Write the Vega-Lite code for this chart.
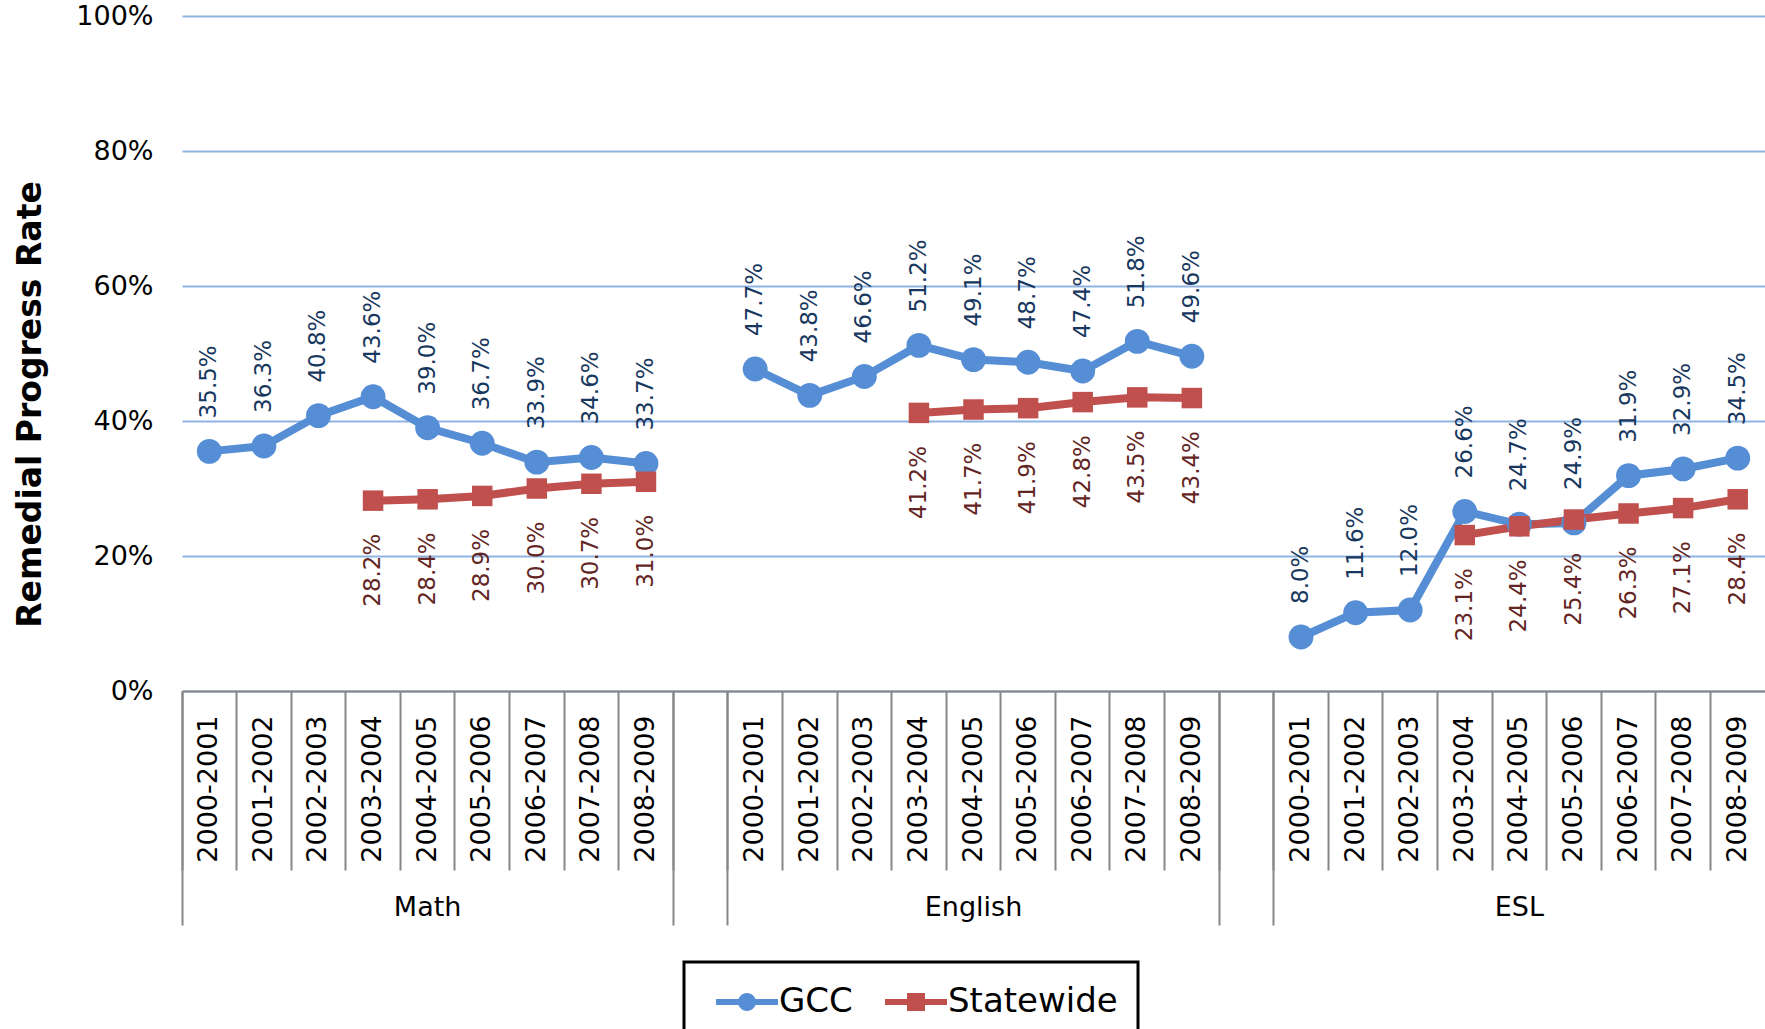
{
  "$schema": "https://vega.github.io/schema/vega-lite/v6.json",
  "width": 1583,
  "height": 675,
  "autosize": {"type": "none"},
  "padding": {"left": 182, "top": 16, "right": 0, "bottom": 338},
  "background": "white",
  "config": {"font": "DejaVu Sans", "view": {"stroke": null}},
  "data": {"values": [
    {"cat": "Math 2000-2001", "group": "Math", "series": "GCC", "value": 0.355},
    {"cat": "Math 2001-2002", "group": "Math", "series": "GCC", "value": 0.363},
    {"cat": "Math 2002-2003", "group": "Math", "series": "GCC", "value": 0.408},
    {"cat": "Math 2003-2004", "group": "Math", "series": "GCC", "value": 0.436},
    {"cat": "Math 2004-2005", "group": "Math", "series": "GCC", "value": 0.390},
    {"cat": "Math 2005-2006", "group": "Math", "series": "GCC", "value": 0.367},
    {"cat": "Math 2006-2007", "group": "Math", "series": "GCC", "value": 0.339},
    {"cat": "Math 2007-2008", "group": "Math", "series": "GCC", "value": 0.346},
    {"cat": "Math 2008-2009", "group": "Math", "series": "GCC", "value": 0.337},
    {"cat": "English 2000-2001", "group": "English", "series": "GCC", "value": 0.477},
    {"cat": "English 2001-2002", "group": "English", "series": "GCC", "value": 0.438},
    {"cat": "English 2002-2003", "group": "English", "series": "GCC", "value": 0.466},
    {"cat": "English 2003-2004", "group": "English", "series": "GCC", "value": 0.512},
    {"cat": "English 2004-2005", "group": "English", "series": "GCC", "value": 0.491},
    {"cat": "English 2005-2006", "group": "English", "series": "GCC", "value": 0.487},
    {"cat": "English 2006-2007", "group": "English", "series": "GCC", "value": 0.474},
    {"cat": "English 2007-2008", "group": "English", "series": "GCC", "value": 0.518},
    {"cat": "English 2008-2009", "group": "English", "series": "GCC", "value": 0.496},
    {"cat": "ESL 2000-2001", "group": "ESL", "series": "GCC", "value": 0.080},
    {"cat": "ESL 2001-2002", "group": "ESL", "series": "GCC", "value": 0.116},
    {"cat": "ESL 2002-2003", "group": "ESL", "series": "GCC", "value": 0.120},
    {"cat": "ESL 2003-2004", "group": "ESL", "series": "GCC", "value": 0.266},
    {"cat": "ESL 2004-2005", "group": "ESL", "series": "GCC", "value": 0.247},
    {"cat": "ESL 2005-2006", "group": "ESL", "series": "GCC", "value": 0.249},
    {"cat": "ESL 2006-2007", "group": "ESL", "series": "GCC", "value": 0.319},
    {"cat": "ESL 2007-2008", "group": "ESL", "series": "GCC", "value": 0.329},
    {"cat": "ESL 2008-2009", "group": "ESL", "series": "GCC", "value": 0.345},
    {"cat": "Math 2003-2004", "group": "Math", "series": "Statewide", "value": 0.282},
    {"cat": "Math 2004-2005", "group": "Math", "series": "Statewide", "value": 0.284},
    {"cat": "Math 2005-2006", "group": "Math", "series": "Statewide", "value": 0.289},
    {"cat": "Math 2006-2007", "group": "Math", "series": "Statewide", "value": 0.300},
    {"cat": "Math 2007-2008", "group": "Math", "series": "Statewide", "value": 0.307},
    {"cat": "Math 2008-2009", "group": "Math", "series": "Statewide", "value": 0.310},
    {"cat": "English 2003-2004", "group": "English", "series": "Statewide", "value": 0.412},
    {"cat": "English 2004-2005", "group": "English", "series": "Statewide", "value": 0.417},
    {"cat": "English 2005-2006", "group": "English", "series": "Statewide", "value": 0.419},
    {"cat": "English 2006-2007", "group": "English", "series": "Statewide", "value": 0.428},
    {"cat": "English 2007-2008", "group": "English", "series": "Statewide", "value": 0.435},
    {"cat": "English 2008-2009", "group": "English", "series": "Statewide", "value": 0.434},
    {"cat": "ESL 2003-2004", "group": "ESL", "series": "Statewide", "value": 0.231},
    {"cat": "ESL 2004-2005", "group": "ESL", "series": "Statewide", "value": 0.244},
    {"cat": "ESL 2005-2006", "group": "ESL", "series": "Statewide", "value": 0.254},
    {"cat": "ESL 2006-2007", "group": "ESL", "series": "Statewide", "value": 0.263},
    {"cat": "ESL 2007-2008", "group": "ESL", "series": "Statewide", "value": 0.271},
    {"cat": "ESL 2008-2009", "group": "ESL", "series": "Statewide", "value": 0.284}
  ]},
  "encoding": {
    "y": {
      "field": "value", "type": "quantitative",
      "scale": {"domain": [0, 1], "nice": false},
      "axis": {
        "values": [0, 0.2, 0.4, 0.6, 0.8, 1],
        "format": "%",
        "labelFontSize": 27,
        "labelColor": "#000000",
        "labelPadding": 29,
        "domain": false,
        "ticks": false,
        "grid": true,
        "gridColor": "#8EB4E3",
        "gridWidth": 2,
        "title": "Remedial Progress Rate",
        "titleFontSize": 33,
        "titleFontWeight": "bold",
        "titleColor": "#000000",
        "titleAngle": -90,
        "titleAlign": "center",
        "titleBaseline": "alphabetic",
        "titleX": -142,
        "titleY": 388
      }
    }
  },
  "layer": [
    {
      "mark": {"type": "line", "strokeWidth": 8},
      "encoding": {
        "x": {
          "field": "cat", "type": "ordinal",
          "scale": {"type": "band", "paddingInner": 0, "paddingOuter": 0,
            "domain": ["Math 2000-2001","Math 2001-2002","Math 2002-2003","Math 2003-2004","Math 2004-2005","Math 2005-2006","Math 2006-2007","Math 2007-2008","Math 2008-2009","gap1","English 2000-2001","English 2001-2002","English 2002-2003","English 2003-2004","English 2004-2005","English 2005-2006","English 2006-2007","English 2007-2008","English 2008-2009","gap2","ESL 2000-2001","ESL 2001-2002","ESL 2002-2003","ESL 2003-2004","ESL 2004-2005","ESL 2005-2006","ESL 2006-2007","ESL 2007-2008","ESL 2008-2009"]},
          "axis": {
            "orient": "bottom",
            "title": null,
            "bandPosition": 0,
            "labelExpr": "indexof(datum.value, ' ') > 0 ? split(datum.value, ' ')[1] : ''",
            "labelAngle": -90,
            "labelAlign": "right",
            "labelBaseline": "middle",
            "labelFontSize": 27,
            "labelColor": "#000000",
            "labelOverlap": false,
            "labelPadding": -155,
            "tickSize": 179,
            "tickColor": "#868686",
            "tickWidth": 2,
            "domainColor": "#868686",
            "domainWidth": 2,
            "grid": false,
            "zindex": 1
          }
        },
        "color": {
          "field": "series", "type": "nominal",
          "scale": {"domain": ["GCC", "Statewide"], "range": ["#558ED5", "#C0504D"]},
          "legend": {
            "title": null,
            "orient": "none",
            "legendX": 502,
            "legendY": 946,
            "direction": "horizontal",
            "symbolSize": 1600,
            "symbolType": "circle",
            "labelFontSize": 34,
            "labelLimit": 400,
            "labelColor": "#000000",
            "labelOffset": 35,
            "columnPadding": 20,
            "padding": 20,
            "strokeColor": "#000000",
            "encode": {
              "legend": {"update": {"strokeWidth": {"value": 3}}},
              "symbols": {"update": {
                "shape": {"signal": "datum.value === 'GCC' ? 'M-0.4,-0.15H2.7V0.15H-0.4Z M1.15,-0.45A0.45,0.45 0 1,1 1.15,0.45A0.45,0.45 0 1,1 1.15,-0.45Z' : 'M-0.4,-0.15H2.7V0.15H-0.4Z M0.7,-0.45H1.6V0.45H0.7Z'"},
                "fill": {"signal": "datum.value === 'GCC' ? '#558ED5' : '#C0504D'"},
                "fillOpacity": {"value": 1},
                "opacity": {"value": 1},
                "stroke": {"value": "transparent"},
                "strokeWidth": {"value": 0}
              }}
            }
          }
        },
        "detail": {"field": "group"}
      }
    },
    {
      "transform": [{"filter": "datum.series === 'GCC'"}],
      "mark": {"type": "point", "shape": "circle", "filled": true, "opacity": 1, "size": 620, "color": "#558ED5"},
      "encoding": {
        "x": {
          "field": "cat", "type": "ordinal",
          "scale": {"type": "band", "paddingInner": 0, "paddingOuter": 0,
            "domain": ["Math 2000-2001","Math 2001-2002","Math 2002-2003","Math 2003-2004","Math 2004-2005","Math 2005-2006","Math 2006-2007","Math 2007-2008","Math 2008-2009","gap1","English 2000-2001","English 2001-2002","English 2002-2003","English 2003-2004","English 2004-2005","English 2005-2006","English 2006-2007","English 2007-2008","English 2008-2009","gap2","ESL 2000-2001","ESL 2001-2002","ESL 2002-2003","ESL 2003-2004","ESL 2004-2005","ESL 2005-2006","ESL 2006-2007","ESL 2007-2008","ESL 2008-2009"]},
          "axis": null
        }
      }
    },
    {
      "transform": [{"filter": "datum.series === 'Statewide'"}],
      "mark": {"type": "point", "shape": "square", "filled": true, "opacity": 1, "size": 420, "color": "#C0504D"},
      "encoding": {
        "x": {
          "field": "cat", "type": "ordinal",
          "scale": {"type": "band", "paddingInner": 0, "paddingOuter": 0,
            "domain": ["Math 2000-2001","Math 2001-2002","Math 2002-2003","Math 2003-2004","Math 2004-2005","Math 2005-2006","Math 2006-2007","Math 2007-2008","Math 2008-2009","gap1","English 2000-2001","English 2001-2002","English 2002-2003","English 2003-2004","English 2004-2005","English 2005-2006","English 2006-2007","English 2007-2008","English 2008-2009","gap2","ESL 2000-2001","ESL 2001-2002","ESL 2002-2003","ESL 2003-2004","ESL 2004-2005","ESL 2005-2006","ESL 2006-2007","ESL 2007-2008","ESL 2008-2009"]},
          "axis": null
        }
      }
    },
    {
      "transform": [{"filter": "datum.series === 'GCC'"}],
      "mark": {"type": "text", "angle": -90, "align": "left", "baseline": "middle", "dx": 33, "fontSize": 23, "color": "#17375E"},
      "encoding": {
        "x": {
          "field": "cat", "type": "ordinal",
          "scale": {"type": "band", "paddingInner": 0, "paddingOuter": 0,
            "domain": ["Math 2000-2001","Math 2001-2002","Math 2002-2003","Math 2003-2004","Math 2004-2005","Math 2005-2006","Math 2006-2007","Math 2007-2008","Math 2008-2009","gap1","English 2000-2001","English 2001-2002","English 2002-2003","English 2003-2004","English 2004-2005","English 2005-2006","English 2006-2007","English 2007-2008","English 2008-2009","gap2","ESL 2000-2001","ESL 2001-2002","ESL 2002-2003","ESL 2003-2004","ESL 2004-2005","ESL 2005-2006","ESL 2006-2007","ESL 2007-2008","ESL 2008-2009"]},
          "axis": null
        },
        "text": {"field": "value", "type": "quantitative", "format": ".1%"}
      }
    },
    {
      "transform": [{"filter": "datum.series === 'Statewide'"}],
      "mark": {"type": "text", "angle": -90, "align": "right", "baseline": "middle", "dx": -33, "fontSize": 23, "color": "#632523"},
      "encoding": {
        "x": {
          "field": "cat", "type": "ordinal",
          "scale": {"type": "band", "paddingInner": 0, "paddingOuter": 0,
            "domain": ["Math 2000-2001","Math 2001-2002","Math 2002-2003","Math 2003-2004","Math 2004-2005","Math 2005-2006","Math 2006-2007","Math 2007-2008","Math 2008-2009","gap1","English 2000-2001","English 2001-2002","English 2002-2003","English 2003-2004","English 2004-2005","English 2005-2006","English 2006-2007","English 2007-2008","English 2008-2009","gap2","ESL 2000-2001","ESL 2001-2002","ESL 2002-2003","ESL 2003-2004","ESL 2004-2005","ESL 2005-2006","ESL 2006-2007","ESL 2007-2008","ESL 2008-2009"]},
          "axis": {
            "orient": "bottom",
            "title": null,
            "bandPosition": 0,
            "domain": false,
            "grid": false,
            "labelExpr": "datum.value === 'Math 2004-2005' ? 'Math' : datum.value === 'English 2004-2005' ? 'English' : datum.value === 'ESL 2004-2005' ? 'ESL' : ''",
            "labelAngle": 0,
            "labelAlign": "center",
            "labelBaseline": "middle",
            "labelFontSize": 27,
            "labelColor": "#000000",
            "labelOverlap": false,
            "labelPadding": -18,
            "tickSize": 234,
            "tickColor": "#868686",
            "tickWidth": 2,
            "tickOpacity": {"condition": {"test": "datum.value === 'Math 2000-2001' || datum.value === 'gap1' || datum.value === 'English 2000-2001' || datum.value === 'gap2' || datum.value === 'ESL 2000-2001'", "value": 1}, "value": 0},
            "zindex": 1
          }
        },
        "text": {"field": "value", "type": "quantitative", "format": ".1%"}
      }
    }
  ],
  "resolve": {"axis": {"x": "independent"}}
}
